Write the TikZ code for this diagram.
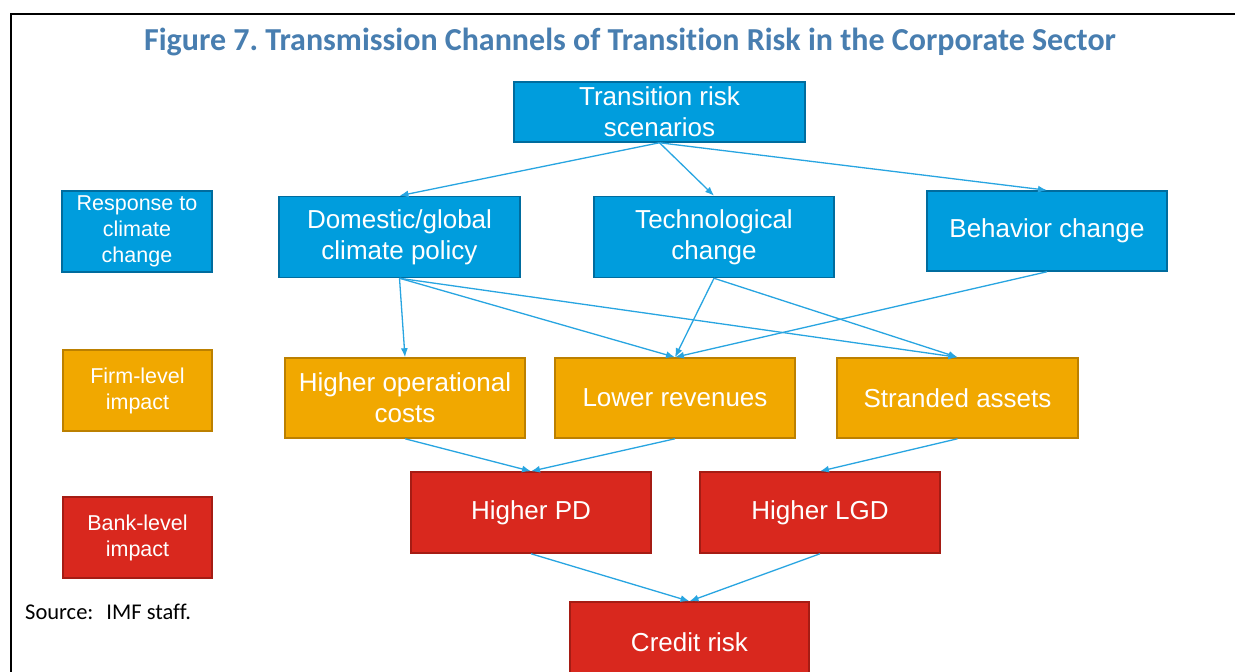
\documentclass[tikz,border=0pt]{standalone}
\usepackage{fontspec}
\setmainfont{Liberation Sans}
\newfontfamily\titlefont[Ligatures={NoCommon}]{Carlito}
\usetikzlibrary{arrows.meta}
\definecolor{titleblue}{RGB}{72,126,176}
\definecolor{bfill}{RGB}{0,157,221}
\definecolor{bdraw}{RGB}{0,108,158}
\definecolor{ofill}{RGB}{241,168,0}
\definecolor{odraw}{RGB}{188,128,0}
\definecolor{rfill}{RGB}{217,40,30}
\definecolor{rdraw}{RGB}{165,28,20}
\definecolor{arr}{RGB}{40,165,225}
\frenchspacing
\tikzset{
  boxbase/.style={rectangle, line width=1.5pt, inner sep=0pt, align=center, text=white,
    font=\fontsize{26}{31}\selectfont},
  bluebox/.style={boxbase, fill=bfill, draw=bdraw},
  orangebox/.style={boxbase, fill=ofill, draw=odraw},
  redbox/.style={boxbase, fill=rfill, draw=rdraw},
  legendtxt/.style={font=\fontsize{21.5}{26}\selectfont},
  conn/.style={draw=arr, line width=1.3pt, -{Latex[length=9pt,width=7pt]}}
}
\begin{document}
\begin{tikzpicture}[x=1pt,y=-1pt]
\useasboundingbox (0,0) rectangle (1235,672);
\clip (0,0) rectangle (1235,672);
\fill[white] (0,0) rectangle (1235,672);
% frame
\draw[line width=2.5pt] (11,672) -- (11,14) -- (1240,14);
% title
\node[font=\titlefont\bfseries\fontsize{32}{36}\selectfont, text=titleblue] (title) at (630,42) {Figure 7. Transmission Channels of Transition Risk in the Corporate Sector};
% top
\node[bluebox, minimum width=291pt, minimum height=60pt] (trs) at (659.5,112) {Transition risk\\scenarios};
% legend column
\node[bluebox, legendtxt, minimum width=150pt, minimum height=81pt] (resp) at (137,231.5) {Response to\\climate\\change};
\node[orangebox, legendtxt, minimum width=149pt, minimum height=81pt] (firm) at (137.5,390.5) {Firm-level\\impact};
\node[redbox, legendtxt, minimum width=149pt, minimum height=81pt] (bank) at (137.5,537.5) {Bank-level\\impact};
% response row
\node[bluebox, minimum width=241pt, minimum height=81pt] (dom) at (399.5,237) {Domestic/global\\climate policy};
\node[bluebox, minimum width=240pt, minimum height=81pt] (tech) at (714,237) {Technological\\change};
\node[bluebox, minimum width=240pt, minimum height=80pt] (beh) at (1047,231) {Behavior change};
% firm row
\node[orangebox, minimum width=240pt, minimum height=80pt] (hoc) at (405,398) {Higher operational\\costs};
\node[orangebox, minimum width=240pt, minimum height=80pt] (lrev) at (675,398) {Lower revenues};
\node[orangebox, minimum width=241pt, minimum height=80pt] (stra) at (957.5,398) {Stranded assets};
% bank row
\node[redbox, minimum width=240pt, minimum height=81pt] (hpd) at (531,512.5) {Higher PD};
\node[redbox, minimum width=240pt, minimum height=81pt] (hlgd) at (820,512.5) {Higher LGD};
\node[redbox, minimum width=239pt, minimum height=80pt] (cred) at (689.5,642) {Credit risk};
% source
\node[font=\titlefont\fontsize{22.5}{26}\selectfont, anchor=west, inner sep=0pt] (src) at (25,612) {Source:\hspace{13pt}IMF staff.};
% connectors
\draw[conn] (trs.south) -- (dom.north);
\draw[conn] (trs.south) -- (tech.north);
\draw[conn] (trs.south) -- (beh.north);
\draw[conn] (dom.south) -- (hoc.north);
\draw[conn] (dom.south) -- (lrev.north);
\draw[conn] (dom.south) -- (stra.north);
\draw[conn] (tech.south) -- (lrev.north);
\draw[conn] (tech.south) -- (stra.north);
\draw[conn] (beh.south) -- (lrev.north);
\draw[conn] (hoc.south) -- (hpd.north);
\draw[conn] (lrev.south) -- (hpd.north);
\draw[conn] (stra.south) -- (hlgd.north);
\draw[conn] (hpd.south) -- (cred.north);
\draw[conn] (hlgd.south) -- (cred.north);
\end{tikzpicture}
\end{document}
